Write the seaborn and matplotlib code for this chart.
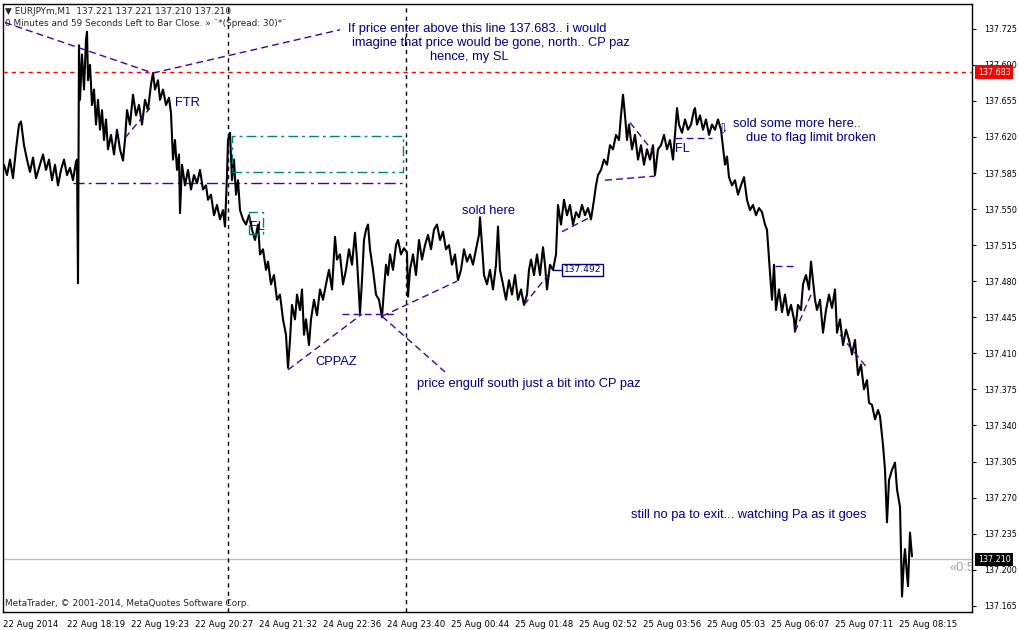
import pandas as pd
import seaborn as sns
import matplotlib.pyplot as plt
from matplotlib.patches import Rectangle

# price path: bar number (1 bar = 1 px) and price
bars_fri = [3, 4, 7, 10, 13, 16, 19, 21, 24, 27, 30, 33, 36, 40, 43, 46, 49, 52, 55, 58,
            61, 64, 67, 70, 73, 76, 77, 78, 79, 80, 82, 84, 86, 87, 88, 90, 92, 94, 96, 98,
            100, 102, 104, 106, 108, 111, 114, 117, 120, 123, 125, 127, 130, 133, 136, 139,
            142, 145, 148, 151, 153, 155, 158, 160, 163, 166, 169, 171, 173, 175, 177, 179,
            180, 182, 185, 188, 191, 194, 197, 200, 203, 206, 208, 211, 214, 217, 220, 223,
            225, 227, 228, 230, 232, 234, 236, 238, 240, 243, 246, 249, 252, 255]
px_fri = [137.588, 137.593, 137.583, 137.598, 137.580, 137.608, 137.632, 137.635, 137.612,
          137.598, 137.586, 137.600, 137.580, 137.593, 137.603, 137.588, 137.598, 137.578,
          137.593, 137.573, 137.588, 137.598, 137.583, 137.590, 137.578, 137.596, 137.598,
          137.478, 137.709, 137.656, 137.700, 137.666, 137.714, 137.722, 137.675, 137.690,
          137.651, 137.666, 137.632, 137.656, 137.627, 137.646, 137.617, 137.637, 137.608,
          137.622, 137.603, 137.627, 137.608, 137.597, 137.617, 137.646, 137.632, 137.661,
          137.641, 137.651, 137.632, 137.656, 137.646, 137.671, 137.682, 137.666, 137.675,
          137.656, 137.666, 137.651, 137.658, 137.643, 137.598, 137.617, 137.588, 137.603,
          137.546, 137.593, 137.573, 137.588, 137.569, 137.583, 137.575, 137.588, 137.569,
          137.573, 137.559, 137.564, 137.544, 137.554, 137.540, 137.549, 137.533, 137.583,
          137.617, 137.624, 137.578, 137.598, 137.564, 137.578, 137.549, 137.540, 137.535,
          137.544, 137.530, 137.520]

bars_mon = [258, 260, 263, 266, 268, 271, 274, 277, 280, 283, 286, 288, 290, 292, 295, 297,
            300, 302, 304, 306, 309, 311, 314, 317, 320, 323, 326, 329, 332, 335, 337, 340,
            343, 346, 349, 352, 355, 357, 360, 362, 364, 366, 368, 370, 373, 376, 379, 382,
            384, 386, 388, 390, 393, 396, 398, 401, 404, 407, 408, 410, 413, 416, 419, 422,
            425, 428, 431, 434, 437, 440, 443, 446, 449, 452, 455, 458, 461, 464, 467, 470,
            473, 476, 479, 480, 482, 484, 487, 490, 493, 496, 498, 500, 503, 506, 509, 512,
            515, 518, 521, 524, 527, 529, 531, 534, 537, 540, 543, 545, 547, 550, 553, 556,
            557, 558, 561, 564, 567, 570, 573, 576, 579, 582, 585, 588, 591, 594, 596, 598,
            601, 604, 607, 610, 613, 616, 619, 621, 623, 625, 627, 629, 632, 635, 638, 641,
            644, 647, 650, 653, 655, 658, 661, 664, 667, 670, 673, 675, 677, 679, 682, 685,
            688, 691, 694, 695, 697, 700, 703, 706, 709, 712, 715, 718, 721, 723, 725, 727,
            729, 732, 735, 738, 741, 744, 747, 750, 753, 756, 759, 762, 765, 767, 769, 770,
            772, 774, 776, 779, 782, 785, 788, 791, 794, 795, 798, 801, 803, 806, 809, 811,
            813, 815, 817, 820, 823, 826, 829, 832, 835, 837, 840, 843, 846, 849, 852, 855,
            858, 861, 864, 867, 869, 872, 875, 878, 880, 883, 885, 887, 889, 892, 895, 897,
            900, 902, 904, 905, 907, 908, 910, 912]
px_mon = [137.535, 137.506, 137.511, 137.491, 137.499, 137.477, 137.486, 137.462, 137.467,
          137.443, 137.428, 137.396, 137.423, 137.457, 137.443, 137.467, 137.452, 137.472,
          137.428, 137.443, 137.418, 137.443, 137.462, 137.447, 137.472, 137.462, 137.477,
          137.491, 137.472, 137.523, 137.501, 137.506, 137.477, 137.491, 137.511, 137.496,
          137.527, 137.501, 137.449, 137.481, 137.520, 137.530, 137.535, 137.511, 137.491,
          137.467, 137.462, 137.445, 137.472, 137.496, 137.486, 137.506, 137.491, 137.515,
          137.520, 137.506, 137.512, 137.508, 137.465, 137.491, 137.506, 137.486, 137.520,
          137.501, 137.515, 137.525, 137.511, 137.530, 137.535, 137.520, 137.528, 137.511,
          137.515, 137.496, 137.506, 137.481, 137.491, 137.511, 137.499, 137.506, 137.496,
          137.511, 137.525, 137.542, 137.515, 137.486, 137.477, 137.491, 137.472, 137.496,
          137.533, 137.491, 137.477, 137.462, 137.481, 137.467, 137.486, 137.462, 137.472,
          137.457, 137.467, 137.491, 137.501, 137.486, 137.506, 137.486, 137.513, 137.496,
          137.472, 137.496, 137.491, 137.506, 137.530, 137.554, 137.535, 137.559, 137.544,
          137.554, 137.535, 137.547, 137.542, 137.554, 137.544, 137.551, 137.540, 137.559,
          137.573, 137.583, 137.588, 137.598, 137.593, 137.612, 137.608, 137.622, 137.617,
          137.641, 137.661, 137.641, 137.617, 137.632, 137.608, 137.622, 137.598, 137.612,
          137.593, 137.608, 137.598, 137.612, 137.583, 137.608, 137.612, 137.622, 137.608,
          137.617, 137.598, 137.622, 137.648, 137.632, 137.624, 137.637, 137.627, 137.632,
          137.646, 137.648, 137.632, 137.641, 137.627, 137.637, 137.622, 137.632, 137.627,
          137.637, 137.627, 137.610, 137.593, 137.601, 137.581, 137.573, 137.578, 137.564,
          137.573, 137.581, 137.559, 137.549, 137.554, 137.544, 137.551, 137.547, 137.535,
          137.530, 137.501, 137.488, 137.462, 137.496, 137.452, 137.472, 137.450, 137.467,
          137.447, 137.457, 137.443, 137.431, 137.457, 137.452, 137.477, 137.486, 137.472,
          137.499, 137.481, 137.462, 137.452, 137.462, 137.430, 137.452, 137.467, 137.454,
          137.472, 137.430, 137.443, 137.418, 137.433, 137.423, 137.409, 137.423, 137.389,
          137.399, 137.375, 137.384, 137.362, 137.360, 137.346, 137.355, 137.349, 137.321,
          137.297, 137.246, 137.287, 137.297, 137.304, 137.278, 137.261, 137.174, 137.210,
          137.220, 137.195, 137.184, 137.236, 137.213]

tick_bars = [3, 67, 131, 195, 259, 323, 387, 451, 515, 579, 643, 707, 771, 835, 899]
tick_labels = ['22 Aug 2014', '22 Aug 18:19', '22 Aug 19:23', '22 Aug 20:27', '24 Aug 21:32',
               '24 Aug 22:36', '24 Aug 23:40', '25 Aug 00:44', '25 Aug 01:48', '25 Aug 02:52',
               '25 Aug 03:56', '25 Aug 05:03', '25 Aug 06:07', '25 Aug 07:11', '25 Aug 08:15']
price_ticks = [137.165, 137.200, 137.235, 137.270, 137.305, 137.340, 137.375, 137.410,
               137.445, 137.480, 137.515, 137.550, 137.585, 137.620, 137.655, 137.690, 137.725]

sl_level = 137.683
last_price = 137.210
period_seps = [228, 406]

# hand drawn objects: (bar0, price0, bar1, price1)
trend_dashed = [(5, 137.731, 153, 137.682), (153, 137.682, 340, 137.724),
                (125, 137.619, 150, 137.648), (288, 137.394, 362, 137.448),
                (342, 137.448, 397, 137.448), (382, 137.446, 457, 137.480),
                (382, 137.446, 445, 137.392), (524, 137.457, 548, 137.486),
                (562, 137.528, 590, 137.542), (605, 137.578, 655, 137.582),
                (630, 137.634, 653, 137.606), (675, 137.619, 712, 137.619),
                (775, 137.495, 795, 137.495), (795, 137.431, 812, 137.469),
                (840, 137.428, 867, 137.396)]
support_line = (73, 406, 137.575)
teal_boxes = [(232, 403, 137.586, 137.621), (249, 263, 137.526, 137.547)]

notes = [(348, 137.725, 'If price enter above this line 137.683.. i would'),
         (352, 137.711, 'imagine that price would be gone, north.. CP paz'),
         (430, 137.698, 'hence, my SL'),
         (175, 137.653, 'FTR'),
         (250, 137.533, 'FL'),
         (462, 137.548, 'sold here'),
         (315, 137.402, 'CPPAZ'),
         (417, 137.380, 'price engulf south just a bit into CP paz'),
         (675, 137.608, 'FL'),
         (733, 137.633, 'sold some more here..'),
         (746, 137.619, 'due to flag limit broken'),
         (631, 137.253, 'still no pa to exit... watching Pa as it goes')]

sns.set_style('white')
plt.rcParams['font.family'] = ['DejaVu Sans']

fig = plt.figure(figsize=(10.2, 6.3), dpi=100)
ax = fig.add_axes([3 / 1020, 18 / 630, 969 / 1020, 608 / 630])

df = pd.DataFrame({'bar': bars_fri + bars_mon, 'price': px_fri + px_mon})
sns.lineplot(data=df, x='bar', y='price', color='black', lw=1.5,
             estimator=None, sort=False, ax=ax, zorder=4)

purple = '#4B0096'
navy = '#000080'
teal = '#008080'

ax.axhline(sl_level, color='red', lw=1, ls=(0, (3, 3)))
ax.axhline(last_price, color='#C0C0C0', lw=1)
for b in period_seps:
    ax.axvline(b, color='black', lw=1, ls=(0, (3, 3)))

for b0, p0, b1, p1 in trend_dashed:
    ax.plot([b0, b1], [p0, p1], color=purple, lw=1, ls=(0, (5, 3)), zorder=5)
ax.plot([support_line[0], support_line[1]], [support_line[2]] * 2,
        color=purple, lw=1, ls=(0, (8, 3, 2, 3)))
for b0, b1, p0, p1 in teal_boxes:
    ax.add_patch(Rectangle((b0, p0), b1 - b0, p1 - p0, fill=False, ec=teal,
                           lw=1, ls=(0, (7, 3, 2, 3)), zorder=5))

for b, p, t in notes:
    ax.text(b, p, t, color=navy, fontsize=9.3, family=['Liberation Sans'],
            va='center', ha='left', zorder=6)
# sell arrow
ax.text(728, 137.627, '\u21e9', color=navy, fontsize=9, va='center', ha='right', zorder=6)

# price label objects
ax.plot([553, 563], [137.491, 137.491], color=navy, lw=1, zorder=5)
ax.text(564, 137.491, '137.492', color=navy, fontsize=6.6, va='center', ha='left', zorder=6,
        bbox=dict(boxstyle='square,pad=0.2', fc='white', ec=navy, lw=1))
ax.text(950, 137.202, '\u00ab0:59', color='#A0A0A0', fontsize=9.3,
        family=['Liberation Sans'], va='center', ha='left', clip_on=True)

ax.set_xlim(3, 972)
ax.set_ylim(137.159, 137.749)
ax.set_xlabel('')
ax.set_ylabel('')
ax.set_xticks(tick_bars)
ax.set_xticklabels(tick_labels)
for lbl in ax.get_xticklabels():
    lbl.set_ha('left')
ax.set_yticks(price_ticks)
ax.set_yticklabels([f'{v:.3f}' for v in price_ticks])
ax.yaxis.tick_right()
ax.tick_params(axis='x', length=4, pad=1.5, labelsize=6.2, direction='out', colors='black')
ax.tick_params(axis='y', length=3, pad=5.5, labelsize=5.8, direction='out', colors='black')
for s in ax.spines.values():
    s.set_color('black')
    s.set_linewidth(1)

yt = ax.get_yaxis_transform()
ax.text(1.006, sl_level, f'{sl_level:.3f}', transform=yt, color='white', fontsize=5.8,
        va='center', ha='left', zorder=7, clip_on=False,
        bbox=dict(boxstyle='square,pad=0.3', fc='red', ec='none'))
ax.text(1.006, last_price, f'{last_price:.3f}', transform=yt, color='white', fontsize=5.8,
        va='center', ha='left', zorder=7, clip_on=False,
        bbox=dict(boxstyle='square,pad=0.3', fc='black', ec='none'))

fig.text(5 / 1020, 1 - 11 / 630, '\u25bc EURJPYm,M1  137.221 137.221 137.210 137.210',
         fontsize=6.4, va='center', ha='left')
fig.text(5 / 1020, 1 - 24 / 630,
         '0 Minutes and 59 Seconds Left to Bar Close. \u00bb \u00a8*(Spread: 30)*\u00a8',
         fontsize=6.4, va='center', ha='left')
fig.text(5 / 1020, 1 - 604 / 630, 'MetaTrader, \u00a9 2001-2014, MetaQuotes Software Corp.',
         fontsize=6.4, va='center', ha='left')

fig.savefig('out.png', dpi=100)
